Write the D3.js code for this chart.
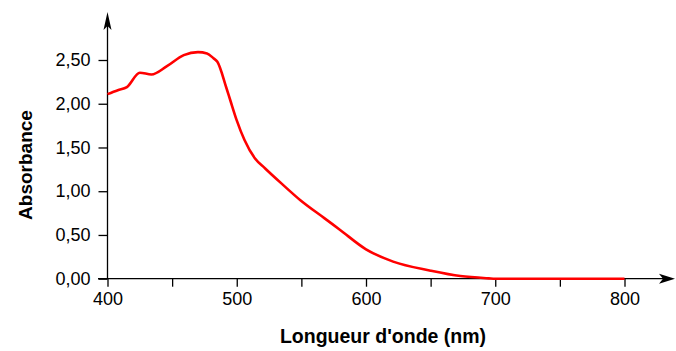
<!DOCTYPE html>
<html>
<head>
<meta charset="utf-8">
<script src="https://cdn.jsdelivr.net/npm/d3@7"></script>
<style>
  body { margin: 0; background: white; }
  svg { display: block; font-family: "Liberation Sans", Arial, sans-serif; }
</style>
</head>
<body>
<svg id="chart" width="676" height="351"></svg>
<script>
// spectrum
var wavelength = [400, 408, 415, 425, 434, 446, 459, 470, 477, 482, 485, 492, 495, 500, 506, 514, 522, 536, 549, 568, 580, 600, 621, 650, 673, 695, 700, 750, 800];
var absorbance = [2.11, 2.155, 2.19, 2.355, 2.335, 2.43, 2.556, 2.59, 2.575, 2.52, 2.48, 2.18, 2.04, 1.81, 1.585, 1.376, 1.26, 1.07, 0.9, 0.69, 0.557, 0.336, 0.195, 0.092, 0.03, 0.004, 0, 0, 0];
var yTicks = [0, 0.5, 1, 1.5, 2, 2.5];
var xTicks = [400, 450, 500, 550, 600, 650, 700, 750, 800];
var xLabels = [400, 500, 600, 700, 800];

const svg = d3.select("#chart");
const x0 = 107.5, yBase = 278.7;

var xScale = d3.scaleLinear().domain([400, 800]).range([x0, 624.5]);
var yScale = d3.scaleLinear().domain([0, 2.5]).range([yBase, 60]);

var fmt = (d) => d3.format(".2f")(d).replace(".", ",");

// y axis ticks + labels
var yAxis = d3.axisLeft(yScale).tickValues(yTicks).tickSize(9).tickPadding(8).tickFormat(fmt);
var gy = svg.append("g").attr("transform", `translate(${x0},0)`).call(yAxis);
gy.select(".domain").remove();
gy.selectAll("line").attr("stroke", "#000").attr("stroke-width", 1.3);
gy.selectAll("text").attr("font-size", 18).attr("fill", "#000").attr("font-family", "Liberation Sans, Arial, sans-serif");

// x axis ticks + labels
var xAxis = d3.axisBottom(xScale).tickValues(xTicks).tickSize(8).tickPadding(6)
  .tickFormat((d) => (xLabels.includes(d) ? d : ""));
var gx = svg.append("g").attr("transform", `translate(0,${yBase})`).call(xAxis);
gx.select(".domain").remove();
gx.selectAll("line").attr("stroke", "#000").attr("stroke-width", 1.3);
gx.selectAll("text").attr("font-size", 18).attr("fill", "#000").attr("font-family", "Liberation Sans, Arial, sans-serif");

// axis lines with arrows
svg.append("line").attr("x1", x0).attr("y1", yBase).attr("x2", x0).attr("y2", 20)
  .attr("stroke", "#000").attr("stroke-width", 1.3);
svg.append("path")
  .attr("d", `M${x0},12 L${x0 + 4},30 L${x0},26 L${x0 - 4},30 Z`)
  .attr("fill", "#000");

svg.append("line").attr("x1", 98).attr("y1", yBase).attr("x2", 668).attr("y2", yBase)
  .attr("stroke", "#000").attr("stroke-width", 1.3);
svg.append("path")
  .attr("d", `M675,${yBase} L659,${yBase - 5} L663,${yBase} L659,${yBase + 5} Z`)
  .attr("fill", "#000");

// curve
var pts = wavelength.map((w, i) => [w, absorbance[i]]);
var line = d3.line()
  .x((d) => xScale(d[0]))
  .y((d) => yScale(d[1]))
  .curve(d3.curveMonotoneX);

svg.append("path")
  .datum(pts)
  .attr("d", line)
  .attr("fill", "none")
  .attr("stroke", "#ff0000")
  .attr("stroke-width", 2.6)
  .attr("stroke-linejoin", "round");

// axis titles
svg.append("text")
  .attr("x", 383)
  .attr("y", 343)
  .attr("text-anchor", "middle")
  .attr("font-size", 19.5)
  .attr("font-weight", "bold")
  .text("Longueur d'onde (nm)");

svg.append("text")
  .attr("transform", "translate(32,165) rotate(-90)")
  .attr("text-anchor", "middle")
  .attr("font-size", 19)
  .attr("font-weight", "bold")
  .text("Absorbance");
</script>
</body>
</html>
